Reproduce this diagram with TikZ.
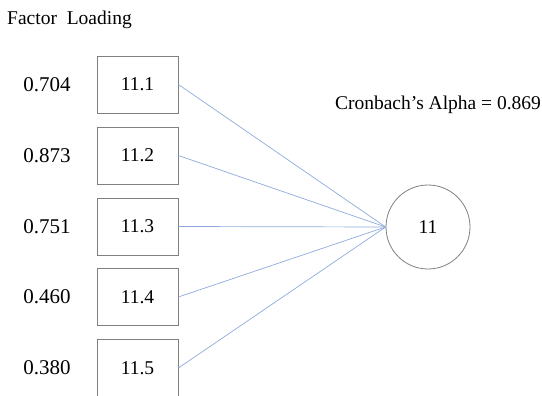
\documentclass[tikz,border=0pt]{standalone}
\usepackage{fontspec}
\setmainfont{Liberation Serif}
\definecolor{boxgray}{RGB}{128,128,128}
\definecolor{linkblue}{RGB}{143,170,220}
\begin{document}
\begin{tikzpicture}[x=1pt,y=-1pt,
  every node/.style={font=\fontsize{19.5}{22}\selectfont, inner sep=0pt},
  loadval/.style={font=\fontsize{21}{24}\selectfont},
  itembox/.style={draw=boxgray, line width=0.8pt, minimum width=81pt, minimum height=57pt},
  factor/.style={draw=boxgray, line width=0.8pt, circle, minimum size=84pt},
  load/.style={linkblue, line width=0.7pt}]
\useasboundingbox (0,0) rectangle (542,396);

\node[anchor=base west] (title) at (7,25) {Factor\ \ Loading};

% loadings and observed items
\foreach \i/\v/\y in {1/0.704/84.5, 2/0.873/155.5, 3/0.751/226.5, 4/0.460/297, 5/0.380/368}{
  \node[loadval] (v\i) at (47,\y) {\v};
  \node[itembox] (b\i) at (137.5,\y) {11.\i};
}

% latent construct
\node[factor] (f) at (428,227) {11};
\node (alpha) at (438,105) {Cronbach’s Alpha = 0.869};

\foreach \i in {1,...,5}{
  \draw[load] (b\i.east) -- (f.west);
}
\end{tikzpicture}
\end{document}
